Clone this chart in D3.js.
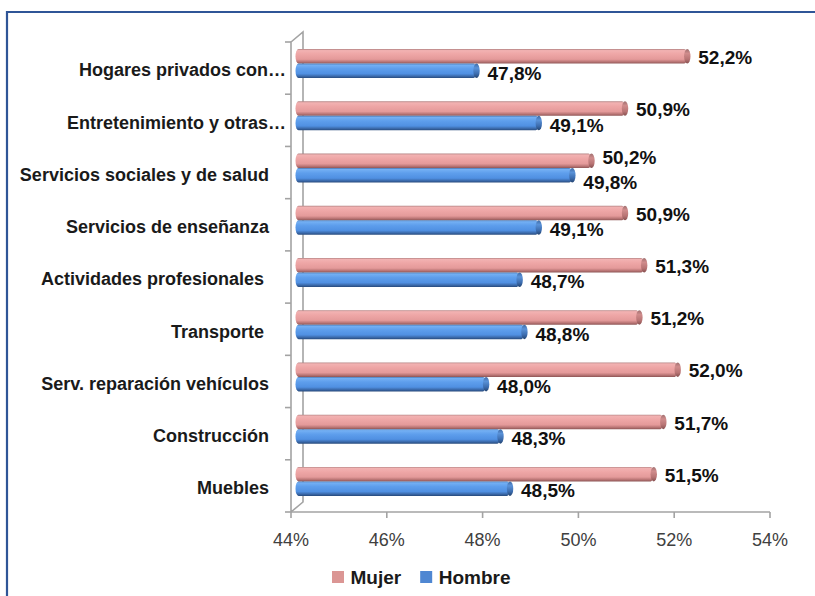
<!DOCTYPE html>
<html>
<head>
<meta charset="utf-8">
<script src="https://cdn.jsdelivr.net/npm/d3@7"></script>
<style>
  body { margin: 0; background: #fff; }
  svg { display: block; }
  text { font-family: "Liberation Sans", Arial, sans-serif; }
</style>
</head>
<body>
<div id="chart"></div>
<script>
// datos del gráfico
const categories = [
  "Hogares privados con…",
  "Entretenimiento y otras…",
  "Servicios sociales y de salud",
  "Servicios de enseñanza",
  "Actividades profesionales ",
  "Transporte ",
  "Serv. reparación vehículos",
  "Construcción",
  "Muebles"
];
const mujer = [52.2, 50.9, 50.2, 50.9, 51.3, 51.2, 52.0, 51.7, 51.5];
const hombre = [47.8, 49.1, 49.8, 49.1, 48.7, 48.8, 48.0, 48.3, 48.5];
const xTicks = [44, 46, 48, 50, 52, 54];
const seriesNames = ["Mujer", "Hombre"];

const width = 815, height = 596;
const depthX = 12, depthY = 10;   // desplazamiento 3D de la pared del fondo

const svg = d3.select('#chart')
  .append('svg')
  .attr('width', width)
  .attr('height', height);

// borde exterior
svg.append('path')
  .attr('d', `M7,${height + 5} V12 H${width + 5}`)
  .attr('fill', 'none')
  .attr('stroke', '#2f5597')
  .attr('stroke-width', 2.2);

const x = d3.scaleLinear().domain([44, 54]).range([291, 770]);
const xBar = d3.scaleLinear().domain([44, 54]).range([297.5, 776.5]);
const y = d3.scaleBand().domain(categories).range([42, 512]);
const barH = 14.5;

// degradados de los cilindros
const defs = svg.append('defs');
function grad(id, stops) {
  const g = defs.append('linearGradient').attr('id', id)
    .attr('x1', 0).attr('y1', 0).attr('x2', 0).attr('y2', 1);
  stops.forEach(s => g.append('stop').attr('offset', s[0]).attr('stop-color', s[1]));
}
grad('gMujer', [[0, '#b48484'], [0.1, '#f2b2b2'], [0.35, '#eea6a6'], [0.7, '#e49a9a'], [0.88, '#b87474'], [1, '#8e5656']]);
grad('gHombre', [[0, '#4a78b4'], [0.1, '#74b0f4'], [0.35, '#5e9eec'], [0.7, '#5090e2'], [0.88, '#3a68a8'], [1, '#274a7c']]);
grad('cMujer', [[0, '#a07070'], [0.3, '#d08c8c'], [0.7, '#b87474'], [1, '#865050']]);
grad('cHombre', [[0, '#3f6aa5'], [0.3, '#5a92d8'], [0.7, '#3c6cae'], [1, '#244470']]);

// ejes en perspectiva
const axisColor = '#a3a3a3';
const axes = svg.append('g').attr('fill', 'none').attr('stroke', axisColor).attr('stroke-width', 1.6);
const yTop = y.range()[0], yBot = y.range()[1];
axes.append('path')
  .attr('d', `M${x(44)},${yBot} V${yTop} L${x(44) + depthX},${yTop - depthY} V${yBot - depthY} L${x(44)},${yBot}`);
// marcas del eje vertical
const yBounds = categories.map(c => y(c)).concat([yBot]);
axes.selectAll('line.ytick')
  .data(yBounds)
  .enter()
  .append('line')
  .attr('x1', x(44) - 6).attr('x2', x(44))
  .attr('y1', d => d).attr('y2', d => d);
// eje horizontal
axes.append('line')
  .attr('x1', x(44)).attr('x2', x(54))
  .attr('y1', yBot).attr('y2', yBot);
axes.selectAll('line.xtick')
  .data(xTicks)
  .enter()
  .append('line')
  .attr('x1', d => x(d)).attr('x2', d => x(d))
  .attr('y1', yBot).attr('y2', yBot + 6);

svg.append('g')
  .selectAll('text')
  .data(xTicks)
  .enter()
  .append('text')
  .attr('x', d => x(d))
  .attr('y', 540)
  .attr('dy', '0.35em')
  .attr('text-anchor', 'middle')
  .attr('font-size', 18)
  .attr('fill', '#404040')
  .text(d => d + '%');

// etiquetas de categoría
svg.append('g')
  .selectAll('text')
  .data(categories)
  .enter()
  .append('text')
  .attr('x', d => d.endsWith('…') ? 286 : 269)
  .attr('y', d => y(d) + y.bandwidth() / 2 + 2)
  .attr('dy', '0.35em')
  .attr('text-anchor', 'end')
  .attr('font-size', 18)
  .attr('font-weight', 'bold')
  .attr('fill', '#1a1a1a')
  .style('white-space', 'pre')
  .text(d => d);

// barras (cilindros)
const rows = categories.map((c, i) => ({ cat: c, mujer: mujer[i], hombre: hombre[i] }));
const series = [
  { key: 'mujer', name: seriesNames[0], fill: 'url(#gMujer)', cap: 'url(#cMujer)', off: 0 },
  { key: 'hombre', name: seriesNames[1], fill: 'url(#gHombre)', cap: 'url(#cHombre)', off: barH }
];
const barTop = d => y(d.cat) + y.bandwidth() / 2 - 19;

series.forEach(s => {
  const g = svg.append('g');
  g.selectAll('rect')
    .data(rows)
    .enter()
    .append('rect')
    .attr('x', xBar(44) - 2)
    .attr('y', d => barTop(d) + s.off)
    .attr('width', d => xBar(d[s.key]) - xBar(44) - 1)
    .attr('height', barH)
    .attr('rx', 3)
    .attr('ry', barH / 2)
    .attr('fill', s.fill);
  g.selectAll('ellipse')
    .data(rows)
    .enter()
    .append('ellipse')
    .attr('cx', d => xBar(d[s.key]) - 3)
    .attr('cy', d => barTop(d) + s.off + barH / 2)
    .attr('rx', 3.2)
    .attr('ry', barH / 2)
    .attr('fill', s.cap);
});

// etiquetas de valor
const fmt = v => d3.format('.1f')(v).replace('.', ',') + '%';
const labelW = 56;
rows.forEach(d => {
  const xp = xBar(d.mujer) + 8, xh = xBar(d.hombre) + 8;
  let yp = barTop(d) + barH / 2 + 1;
  let yh = barTop(d) + barH * 1.5 + 2;
  // separar etiquetas que se solapan
  if (Math.abs(xp - xh) < labelW) { yp -= 4; yh += 5; }
  [[xp, yp, d.mujer], [xh, yh, d.hombre]].forEach(l => {
    svg.append('text')
      .attr('x', l[0])
      .attr('y', l[1])
      .attr('dy', '0.35em')
      .attr('font-size', 19)
      .attr('font-weight', 'bold')
      .attr('fill', '#111')
      .text(fmt(l[2]));
  });
});

// leyenda
const legend = svg.append('g');
let lx = 332;
series.forEach((s, i) => {
  legend.append('rect')
    .attr('x', lx).attr('y', 571)
    .attr('width', 12).attr('height', 12)
    .attr('fill', i === 0 ? '#db9694' : '#4f87d2');
  const t = legend.append('text')
    .attr('x', lx + 18.5)
    .attr('y', 577)
    .attr('dy', '0.35em')
    .attr('font-size', 19)
    .attr('font-weight', 'bold')
    .attr('fill', '#1a1a1a')
    .text(s.name);
  lx += 18.5 + t.node().getComputedTextLength() + 19;
});
</script>
</body>
</html>
